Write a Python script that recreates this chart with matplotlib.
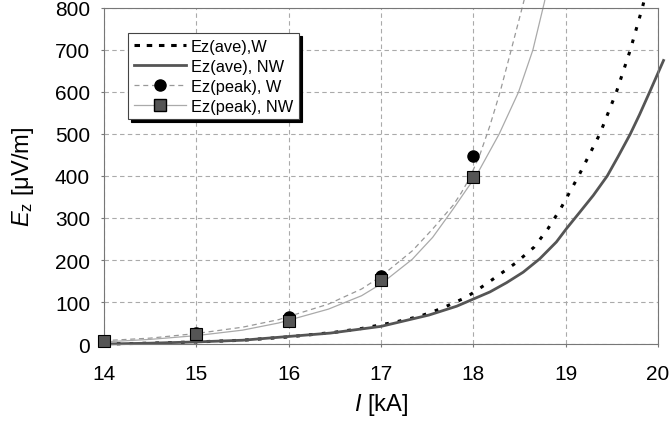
import numpy as np
import matplotlib.pyplot as plt
from matplotlib.lines import Line2D

plt.rcParams['font.family'] = ['Liberation Sans', 'DejaVu Sans']
plt.rcParams['mathtext.fontset'] = 'custom'
plt.rcParams['mathtext.rm'] = 'Liberation Sans'
plt.rcParams['mathtext.it'] = 'Liberation Sans:italic'

# measured peak values at integer currents
I_pts = [14, 15, 16, 17, 18]
peak_w = [8, 26, 65, 162, 448]
peak_nw = [7, 24, 55, 152, 398]

# curves
I_peak_w = [14, 14.5, 15, 15.5, 15.89, 16.43, 16.79, 17.0, 17.34, 17.56, 17.78, 17.87, 17.96,
            18.07, 18.18, 18.29, 18.41, 18.54, 18.58]
curve_peak_w = [8, 14, 25, 40, 58, 95, 131, 161, 222, 274, 330, 360, 395,
                450, 520, 600, 700, 810, 845]
I_peak_nw = [14, 14.5, 15, 15.5, 15.89, 16.43, 16.79, 17.0, 17.34, 17.56, 17.78, 17.93,
             18.03, 18.28, 18.49, 18.645, 18.77, 18.79]
curve_peak_nw = [5, 11, 20, 33, 50, 83, 115, 143, 202, 254, 321, 369,
                 400, 500, 600, 700, 814, 835]

I_ave_w = [14, 14.5, 15, 15.5, 16, 16.5, 16.79, 17.15, 17.42, 17.66, 17.91, 18.02, 18.23,
           18.46, 18.66, 18.81, 18.95, 19.14, 19.37, 19.55, 19.70, 19.83, 19.87]
ave_w = [0, 2, 5, 9, 17, 28, 37, 52, 66, 85, 110, 125, 157,
         193, 231, 275, 324, 400, 500, 600, 700, 800, 835]
I_ave_nw = [14, 14.5, 15, 15.5, 15.89, 16.45, 17.0, 17.52, 17.82, 18.0, 18.18, 18.36, 18.54,
            18.72, 18.90, 19.01, 19.15, 19.30, 19.45, 19.57, 19.70, 19.80, 19.91, 20.0, 20.06]
ave_nw = [0, 2, 5, 9, 16, 26, 42, 69, 90, 107, 124, 146, 171,
          203, 243, 275, 313, 354, 400, 447, 500, 546, 600, 645, 675]

fig = plt.figure(figsize=(6.71, 4.27), dpi=100)
ax = fig.add_axes([0.155, 0.192, 0.8256, 0.787])

ax.plot(I_peak_w, curve_peak_w, color='#999999', lw=0.9, ls=(0, (4, 3)), clip_on=False)
ax.plot(I_peak_nw, curve_peak_nw, color='#aaaaaa', lw=0.9, clip_on=False)
ax.plot(I_ave_w, ave_w, color='black', lw=2.2, ls=(0, (1.2, 3.0)), clip_on=False)
ax.plot(I_ave_nw, ave_nw, color='#555555', lw=2.0, clip_on=False)
ax.plot(I_pts, peak_w, 'o', color='black', ms=8, clip_on=False, zorder=4)
ax.plot(I_pts, peak_nw, 's', mfc='#555555', mec='black', mew=0.8, ms=8, clip_on=False, zorder=5)

ax.set_xlim(14, 20)
ax.set_ylim(0, 800)
ax.set_xticks(range(14, 21))
ax.set_yticks(range(0, 801, 100))
ax.grid(True, ls=(0, (4, 3)), color='#aaaaaa', lw=0.8)
ax.set_axisbelow(True)
for s in ax.spines.values():
    s.set_color('#777777')
ax.tick_params(labelsize=15, color='#777777', length=2.5)
ax.tick_params(axis='x', pad=12)
ax.tick_params(axis='y', pad=7.5)

ax.set_xlabel(r'$\mathit{I}$ [kA]', fontsize=17, labelpad=6)
ax.set_ylabel(r'$\mathit{E}_{\mathrm{z}}$ [μV/m]', fontsize=17, labelpad=14)

handles = [
    Line2D([], [], color='black', lw=2.2, ls=(0, (1.8, 2.2))),
    Line2D([], [], color='#555555', lw=2.0),
    Line2D([], [], color='#999999', lw=0.9, ls=(0, (4, 3)), marker='o', mfc='black', mec='black', ms=8),
    Line2D([], [], color='#aaaaaa', lw=0.9, marker='s', mfc='#555555', mec='black', ms=8),
]
labels = ['Ez(ave),W', 'Ez(ave), NW', 'Ez(peak), W', 'Ez(peak), NW']
leg = ax.legend(handles, labels, loc='upper left', bbox_to_anchor=(0.0433, 0.925),
                borderaxespad=0, fontsize=11.8, frameon=True, fancybox=False,
                shadow={'color': 'black', 'alpha': 1}, framealpha=1,
                edgecolor='#444444', borderpad=0.35, labelspacing=0.3,
                handlelength=3.2, handletextpad=0.3)
leg.get_frame().set_linewidth(0.8)

fig.savefig('out.png', dpi=100)
